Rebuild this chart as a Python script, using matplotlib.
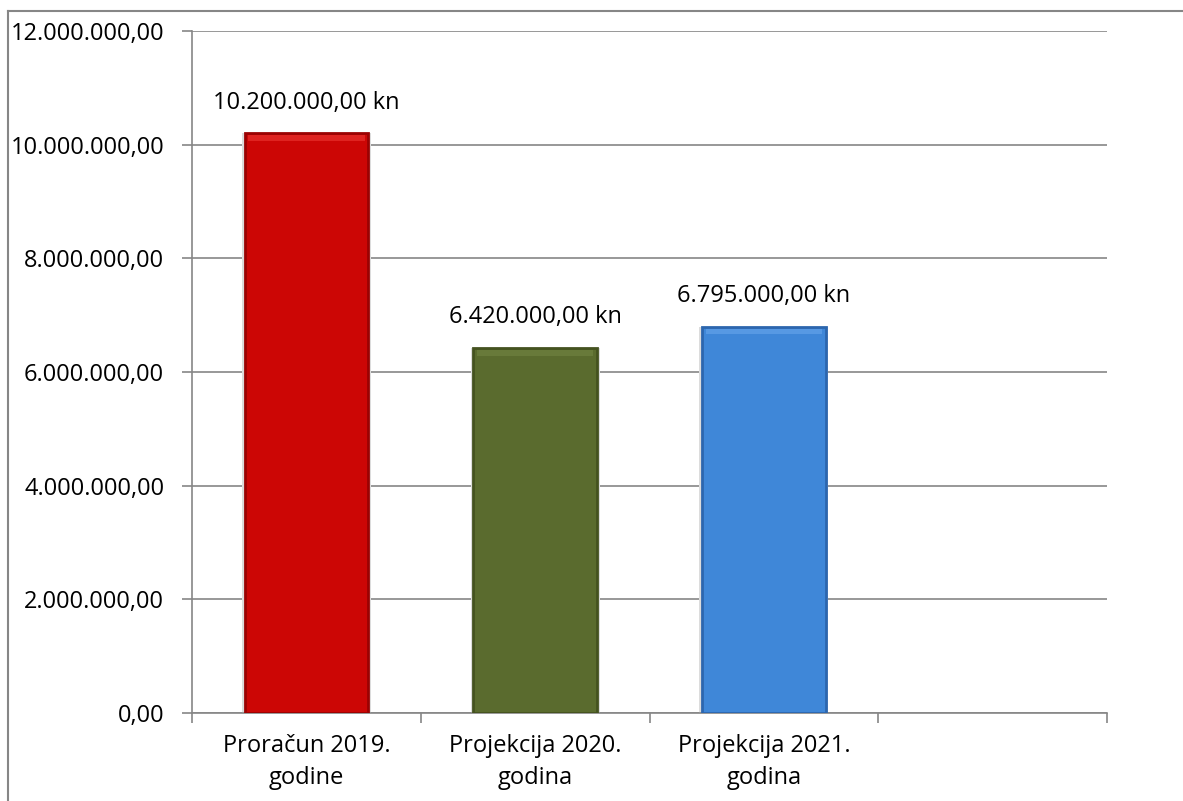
import matplotlib.pyplot as plt
from matplotlib.ticker import FuncFormatter, FixedLocator
import matplotlib.lines as mlines

plt.rcParams['font.family'] = ['Open Sans', 'DejaVu Sans']

categories = ["Proračun 2019.\ngodine", "Projekcija 2020.\ngodina", "Projekcija 2021.\ngodina"]
values = [10200000, 6420000, 6795000]
colors = ['#CC0605', '#5A6B2E', '#3F87D8']
edges = ['#9A0202', '#44521F', '#2C66AE']
tops = ['#E8302C', '#6E8140', '#62A2E8']


# European number format: 10.200.000,00
def eu_fmt(v, pos=None):
    s = f"{v:,.2f}"
    return s.replace(",", "X").replace(".", ",").replace("X", ".")


fig = plt.figure(figsize=(11.83, 8.01), dpi=100)
ax = fig.add_axes([192/1183, 1-713/801, (1107-192)/1183, (713-31)/801])

x = list(range(len(values)))
# faint shadow behind bars
ax.bar(x, values, width=0.565, color='#dcdcdc', zorder=2)
ax.bar(x, values, width=0.54, color=colors, edgecolor=edges, linewidth=2, zorder=3)
# lighter bevel strip at the top of each bar
ax.bar(x, [100000]*3, bottom=[v - 130000 for v in values], width=0.51, color=tops, alpha=0.7, zorder=4)

for xi, v in zip(x, values):
    ax.text(xi, v + 330000, eu_fmt(v) + " kn", ha='center', va='bottom', fontsize=17, zorder=5)

ax.set_xlim(-0.5, 3.5)
ax.set_ylim(0, 12000000)
ax.yaxis.set_major_locator(FixedLocator([i*2000000 for i in range(7)]))
ax.yaxis.set_major_formatter(FuncFormatter(eu_fmt))
ax.grid(axis='y', color='#868686', linewidth=1.2, zorder=0)

ax.set_xticks([i - 0.5 for i in range(5)])
ax.set_xticklabels([])
ax.set_xticks(x, minor=True)
ax.set_xticklabels(categories, minor=True, fontsize=17, linespacing=1.45)
ax.tick_params(axis='x', which='minor', length=0, pad=15)
ax.tick_params(axis='x', which='major', length=7, color='#868686', width=1.2, direction='out')
ax.tick_params(axis='y', length=7, color='#868686', width=1.2, labelsize=17, pad=13)

for side in ['top', 'right']:
    ax.spines[side].set_visible(False)
for side in ['left', 'bottom']:
    ax.spines[side].set_color('#868686')
    ax.spines[side].set_linewidth(1.2)

# outer chart border (top and left visible)
fig.add_artist(mlines.Line2D([8/1183, 1], [1-11/801, 1-11/801], color='#868686', linewidth=1.5))
fig.add_artist(mlines.Line2D([8/1183, 8/1183], [0, 1-11/801], color='#868686', linewidth=1.5))

fig.savefig("out.png", dpi=100)
